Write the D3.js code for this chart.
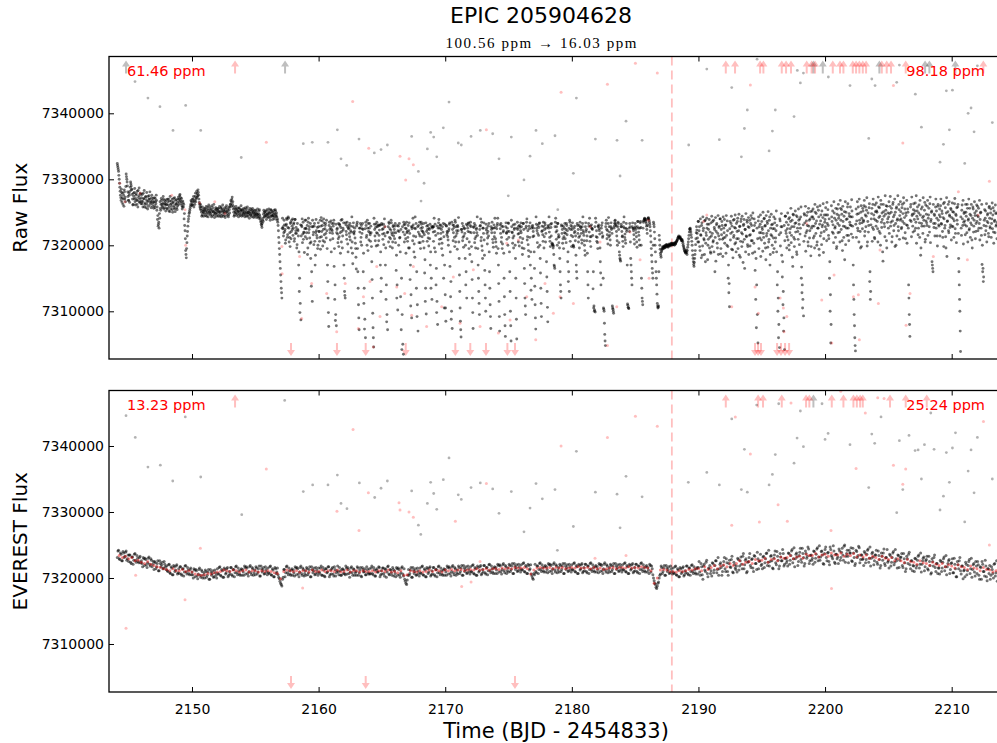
<!DOCTYPE html>
<html>
<head>
<meta charset="utf-8">
<script src="https://cdn.jsdelivr.net/npm/d3@7"></script>
<style>
  body { margin: 0; background: #fff; }
  svg { display: block; font-family: "DejaVu Sans", sans-serif; }
</style>
</head>
<body>
<svg id="chart"></svg>
<script>
// flux values are stored in units of 100 e-/s above 7,300,000
const FLUX_BASE = 7300000, FLUX_UNIT = 100;

// raw light curve, one row per day, every 0.05 d from 2144.000 (A) and 2144.025 (B)
const rawStartA = 2144.0, rawStartB = 2144.025, rawStep = 0.05;
const rawFluxA = [
  null, null, 324, 318, 312, 300, 288, 276, 268, 280, 272, 262, 276, 284, 270, 266, 308, 300, 290, 274,
  268, 276, 282, 296, 290, 285, 270, 262, 274, 280, 266, 271, 278, 262, 268, 283, 275, 265, 270, 277,
  272, 263, 266, 279, 270, 258, 264, 274, 269, 262, 255, 267, 275, 270, 262, 266, 272, 268, 259, 265,
  266, 260, 271, 263, 268, 258, 245, 232, 226, 241, 256, 262, 268, 259, 264, 270, 262, 257, 266, 261,
  262, 255, 266, 270, 258, 251, 262, 267, 259, 254, 264, 271, 260, 255, 268, 262, 257, 265, 270, 262,
  270, 277, 272, 266, 260, 258, 264, 262, 248, 222, 192, 181, 204, 221, 236, 244, 250, 256, 262, 266,
  262, 266, 270, 258, 268, 274, 266, 272, 278, 275, 280, 270, 262, 255, 258, 250, 246, 254, 249, 252,
  248, 256, 252, 244, 250, 258, 253, 247, 251, 255, 249, 243, 252, 257, 250, 246, 253, 248, 255, 250,
  247, 253, 256, 250, 244, 251, 258, 252, 246, 250, 254, 249, 245, 253, 257, 251, 248, 252, 246, 254,
  258, 262, 266, 270, 262, 255, 250, 246, 252, 255, 249, 253, 247, 251, 256, 250, 245, 252, 254, 248,
  251, 247, 254, 250, 246, 252, 255, 249, 244, 250, 253, 248, 251, 246, 249, 253, 247, 250, 244, 248,
  249, 245, 251, 247, 243, 248, 252, 246, 240, 235, 230, 233, 241, 247, 250, 244, 248, 252, 246, 243,
  247, 251, 245, 242, 249, 253, 246, 244, 250, 247, 243, 248, 252, 246, 243, 240, 230, 212, 195, 175,
  155, 135, 120, 241, 228, 219, 231, 224, 208, 232, 239, 216, 243, 226, 212, 198, 235, 221, 229, 240,
  226, 234, 210, 239, 222, 218, 201, 224, 214, 190, 150, 112, 87, 230, 240, 217, 209, 219, 225, 213,
  238, 219, 230, 196, 241, 224, 211, 233, 205, 160, 115, 228, 220, 229, 206, 185, 239, 215, 227, 200,
  228, 221, 212, 194, 242, 221, 230, 207, 240, 216, 225, 233, 211, 222, 170, 120, 77, 235, 219, 227,
  190, 233, 218, 229, 238, 195, 140, 95, 78, 224, 217, 210, 198, 232, 219, 227, 205, 239, 214, 223,
  170, 130, 120, 231, 216, 235, 202, 225, 226, 213, 208, 229, 220, 205, 172, 234, 217, 226, 203, 182,
  229, 235, 160, 110, 72, 220, 233, 212, 200, 225, 224, 188, 135, 88, 60, 230, 215, 238, 192, 221,
  226, 219, 206, 219, 175, 120, 75, 46, 232, 214, 227, 199, 235, 218, 229, 207, 223, 231, 190, 150,
  231, 217, 225, 201, 240, 214, 196, 140, 95, 72, 228, 235, 212, 198, 223, 234, 216, 205, 230, 219,
  210, 233, 219, 185, 140, 102, 229, 221, 211, 190, 224, 150, 95, 50, 35, 231, 216, 226, 188, 235,
  221, 212, 196, 234, 218, 170, 125, 90, 228, 241, 214, 202, 182, 225, 233, 160, 110, 70, 230, 217,
  214, 195, 235, 222, 227, 206, 233, 216, 178, 135, 96, 229, 224, 211, 199, 224, 232, 190, 150, 118,
  228, 220, 228, 196, 232, 215, 165, 115, 80, 226, 239, 209, 230, 218, 224, 203, 185, 233, 213, 170,
  125, 85, 229, 221, 213, 200, 225, 234, 190, 145, 100, 74, 231, 219, 227, 198, 235, 214, 222, 194,
  228, 242, 180, 130, 85, 61, 224, 233, 212, 197, 226, 218, 200, 160, 120, 230, 221, 234, 205, 186,
  235, 219, 175, 120, 74, 227, 233, 210, 196, 224, 219, 215, 170, 130, 95, 229, 240, 212, 199, 180,
  226, 234, 185, 140, 100, 223, 218, 211, 229, 233, 160, 110, 74, 224, 235, 209, 197, 231, 219, 227,
  205, 188, 230, 241, 170, 115, 70, 225, 233, 212, 195, 228, 222, 150, 95, 62, 234, 218, 226, 200,
  233, 221, 160, 100, 55, 228, 219, 211, 196, 224, 232, 180, 120, 58, 235, 217, 229, 199, 227, 222,
  219, 204, 186, 233, 224, 165, 120, 95, 229, 240, 213, 201, 183, 225, 234, 190, 150, 118, 230, 221,
  214, 165, 110, 73, 232, 222, 218, 197, 227, 234, 180, 135, 92, 229, 216, 235, 196, 224, 231, 218,
  175, 130, 84, 230, 243, 212, 198, 227, 233, 203, 201, 199, 170, 165, 235, 220, 228, 200, 233, 216,
  213, 180, 140, 120, 229, 224, 210, 195, 226, 233, 218, 204, 230, 222, 190, 160, 130, 235, 224, 215,
  228, 234, 200, 197, 219, 221, 214, 170, 150, 230, 224, 212, 196, 235, 227, 218, 203, 233, 222, 215,
  200, 185, 234, 224, 214, 160, 120, 229, 241, 213, 198, 231, 225, 215, 160, 108, 102, 99, 235, 222,
  212, 195, 228, 225, 217, 175, 140, 230, 234, 214, 105, 100, 65, 48, 233, 224, 216, 202, 242, 228,
  215, 200, 234, 226, 108, 103, 97, 229, 237, 233, 229, 214, 200, 235, 224, 190, 180, 176, 232, 221,
  214, 198, 235, 226, 217, 203, 233, 224, 111, 106, 104, 221, 228, 180, 160, 140, 234, 225, 216, 202,
  233, 224, 213, 197, 236, 226, 215, 200, 234, 227, 150, 120, 110, 235, 238, 241, 239, 236, 229, 218,
  240, 242, 238, 232, 222, 205, 185, 165, 150, 235, 228, 210, 190, 160, 140, 112, 105, 108, 215, 200,
  188, 182, 192, 195, 198, 196, 199, 197, 200, 198, 201, 199, 197, 200, 202, 199, 201, 203, 200, 202,
  201, 203, 200, 204, 202, 205, 207, 209, 212, 214, 211, 213, 210, 207, 209, 206, 200, 196, 192, 190,
  188, 193, 186, 197, 205, 215, 224, 226, 220, 212, 200, 185, 175, 168, 180, 192, 210, 228, 218, 205,
  236, 222, 198, 240, 215, 230, 185, 243, 226, 208, 237, 175, 219, 241, 232, 200, 224, 239, 212, 190,
  234, 244, 218, 205, 238, 227, 160, 242, 221, 233, 196, 245, 214, 229, 240, 187, 224, 236, 209, 243,
  226, 239, 212, 231, 245, 200, 222, 150, 128, 107, 236, 218, 244, 229, 193, 238, 215, 227, 246, 204,
  233, 221, 241, 210, 247, 228, 182, 236, 219, 244, 205, 230, 239, 165, 224, 248, 213, 235, 198, 242,
  227, 238, 216, 245, 230, 207, 249, 222, 240, 190, 234, 180, 140, 95, 52, 243, 228, 211, 246, 219,
  236, 224, 250, 212, 241, 229, 196, 245, 218, 233, 251, 205, 238, 170, 226, 247, 214, 232, 189, 243,
  225, 240, 211, 252, 230, 160, 120, 80, 45, 237, 219, 248, 228, 175, 130, 90, 42, 244, 222, 235,
  213, 249, 231, 200, 242, 225, 256, 215, 238, 168, 246, 228, 209, 252, 234, 190, 243, 221, 255, 232,
  240, 226, 258, 167, 140, 118, 93, 248, 234, 259, 219, 245, 230, 205, 256, 238, 222, 251, 198, 243,
  229, 255, 240, 214, 262, 233, 248, 200, 258, 226, 243, 185, 260, 237, 219, 252, 231, 263, 210, 246,
  239, 257, 224, 265, 246, 230, 210, 150, 100, 52, 260, 236, 252, 218, 266, 241, 228, 256, 195, 247,
  233, 262, 245, 220, 268, 238, 254, 207, 259, 229, 244, 178, 266, 250, 226, 240, 263, 215, 248, 235,
  258, 230, 269, 243, 212, 140, 95, 60, 40, 255, 237, 266, 222, 248, 270, 233, 196, 260, 241, 225,
  252, 236, 268, 221, 258, 244, 272, 205, 249, 230, 263, 160, 130, 240, 256, 227, 270, 246, 212, 261,
  238, 264, 250, 225, 273, 242, 257, 218, 268, 235, 249, 190, 262, 244, 228, 275, 253, 207, 259, 240,
  226, 266, 248, 274, 235, 256, 213, 262, 243, 230, 270, 250, 200, 258, 238, 275, 222, 254, 245, 266,
  240, 227, 262, 248, 272, 233, 255, 210, 245, 268, 230, 250, 140, 95, 62, 258, 236, 273, 247, 220,
  263, 239, 252, 226, 275, 244, 258, 216, 249, 234, 268, 185, 255, 229, 242, 272, 238, 253, 205, 261,
  247, 230, 268, 241, 256, 220, 273, 236, 250, 175, 165, 262, 227, 245, 233, 270, 252, 214, 259, 238,
  229, 255, 243, 270, 232, 248, 212, 263, 240, 226, 257, 196, 272, 236, 251, 222, 266, 244, 231, 254,
  242, 264, 228, 250, 237, 271, 218, 245, 257, 232, 262, 180, 140, 100, 39, 226, 253, 240, 268, 235,
  250, 231, 262, 244, 219, 256, 238, 270, 225, 247, 234, 262, 208, 241, 255, 229, 266, 245, 221, 252,
  236, 259, 243, 226, 268, 239, 250, 215, 171, 160, 145, 230, 254, 241, 222, 263, 236, 248, 218, 257,
  241, 226, 255, 233, 264, 246, 220, 252, 238, 261, 229, 249, 235
];
const rawFluxB = [
  null, null, 321, 315, 306, 294, 282, 272, 285, 265, 279, 270, 259, 281, 273, 289, 304, 296, 281, 268,
  279, 265, 288, 293, 284, 277, 261, 279, 270, 286, 261, 276, 268, 282, 258, 272, 287, 266, 279, 263,
  267, 277, 258, 271, 283, 262, 273, 257, 280, 266, 274, 259, 270, 281, 265, 257, 276, 263, 271, 256,
  272, 257, 266, 276, 253, 239, 229, 235, 248, 266, 253, 271, 262, 257, 274, 255, 268, 263, 252, 269,
  256, 270, 261, 252, 267, 274, 255, 263, 270, 250, 266, 257, 272, 251, 263, 269, 254, 260, 273, 266,
  275, 268, 263, 271, 255, 267, 258, 240, 230, 210, 186, 195, 214, 229, 240, 248, 253, 259, 268, 260,
  270, 261, 274, 266, 262, 279, 270, 282, 273, 284, 276, 265, 258, 262, 253, 244, 258, 251, 244, 256,
  253, 245, 259, 248, 255, 243, 261, 250, 258, 246, 254, 260, 245, 251, 262, 242, 249, 257, 244, 253,
  256, 244, 251, 259, 247, 256, 243, 255, 261, 244, 252, 257, 242, 250, 260, 245, 255, 243, 258, 249,
  262, 268, 259, 273, 266, 259, 244, 256, 249, 259, 245, 256, 252, 243, 257, 247, 254, 260, 244, 253,
  245, 256, 249, 243, 257, 248, 244, 258, 250, 247, 241, 256, 245, 254, 243, 256, 251, 242, 253, 246,
  253, 242, 247, 255, 245, 241, 254, 243, 237, 232, 227, 238, 236, 253, 243, 251, 245, 239, 254, 248,
  242, 255, 249, 238, 254, 244, 251, 239, 245, 253, 240, 254, 244, 249, 238, 235, 222, 204, 186, 165,
  145, 128, 226, 225, 214, 238, 221, 203, 230, 241, 212, 227, 241, 205, 219, 233, 210, 238, 224, 215,
  232, 206, 239, 218, 227, 196, 233, 222, 170, 130, 98, 231, 214, 228, 204, 235, 220, 189, 238, 226,
  225, 210, 186, 235, 219, 228, 203, 180, 138, 228, 238, 216, 201, 233, 170, 219, 222, 211, 195, 234,
  221, 206, 238, 229, 213, 237, 199, 224, 234, 205, 230, 218, 238, 195, 145, 98, 230, 224, 208, 237,
  224, 222, 210, 233, 168, 118, 86, 232, 219, 226, 204, 233, 213, 230, 188, 238, 221, 196, 226, 234,
  150, 124, 234, 221, 209, 228, 190, 230, 218, 233, 222, 196, 243, 188, 228, 219, 221, 211, 195, 164,
  232, 195, 135, 90, 226, 226, 205, 230, 218, 233, 160, 112, 73, 225, 235, 212, 200, 226, 233, 208,
  233, 216, 229, 198, 148, 97, 60, 241, 224, 207, 232, 219, 228, 200, 231, 215, 230, 170, 130, 233,
  224, 209, 232, 218, 228, 170, 118, 84, 219, 220, 205, 233, 225, 210, 238, 219, 196, 228, 214, 224,
  229, 204, 162, 120, 230, 222, 200, 233, 212, 122, 72, 42, 228, 220, 235, 205, 232, 210, 225, 219,
  206, 230, 222, 196, 148, 108, 228, 225, 207, 231, 190, 226, 243, 213, 135, 92, 228, 220, 204, 235,
  204, 226, 232, 213, 221, 219, 196, 158, 115, 234, 221, 206, 230, 218, 226, 210, 170, 135, 228, 226,
  228, 206, 241, 221, 190, 140, 98, 229, 218, 234, 202, 226, 231, 210, 195, 228, 220, 150, 105, 232,
  105, 230, 216, 219, 208, 222, 232, 168, 122, 88, 235, 224, 207, 230, 212, 238, 205, 228, 218, 230,
  222, 205, 155, 105, 72, 224, 220, 207, 229, 214, 225, 180, 140, 232, 210, 226, 233, 195, 220, 230,
  228, 198, 148, 98, 228, 219, 204, 230, 213, 226, 243, 195, 150, 112, 224, 230, 207, 235, 192, 226,
  218, 208, 162, 120, 232, 226, 202, 221, 214, 190, 135, 92, 228, 219, 226, 204, 226, 213, 241, 210,
  198, 225, 233, 195, 142, 92, 231, 218, 205, 229, 202, 220, 188, 122, 78, 228, 219, 209, 221, 234,
  212, 190, 130, 78, 238, 220, 203, 231, 214, 226, 200, 150, 88, 226, 224, 205, 218, 230, 212, 234,
  228, 196, 210, 233, 195, 142, 108, 226, 235, 208, 222, 192, 229, 212, 170, 132, 226, 228, 213, 226,
  190, 138, 90, 243, 226, 204, 230, 215, 233, 200, 158, 112, 221, 222, 206, 228, 213, 234, 205, 226,
  152, 106, 228, 226, 220, 206, 232, 214, 202, 200, 196, 186, 168, 228, 241, 209, 222, 233, 212, 204,
  196, 160, 130, 231, 218, 203, 229, 213, 219, 210, 224, 233, 216, 175, 145, 226, 238, 206, 230, 198,
  224, 213, 199, 226, 229, 207, 185, 160, 233, 218, 205, 230, 214, 228, 224, 208, 228, 243, 219, 207,
  192, 228, 221, 207, 188, 140, 233, 220, 206, 229, 213, 226, 224, 134, 105, 100, 228, 241, 213, 206,
  204, 229, 231, 222, 196, 158, 226, 219, 212, 150, 103, 82, 55, 228, 238, 210, 222, 233, 213, 220,
  208, 228, 224, 218, 105, 100, 226, 233, 238, 231, 221, 207, 228, 233, 204, 185, 178, 228, 228, 213,
  206, 228, 243, 212, 208, 226, 221, 170, 109, 105, 226, 233, 205, 170, 150, 228, 226, 222, 209, 226,
  228, 219, 205, 228, 236, 220, 208, 226, 236, 200, 135, 115, 226, 237, 240, 240, 238, 233, 224, 230,
  241, 240, 235, 228, 214, 195, 175, 158, 200, 232, 220, 200, 175, 150, 126, 108, 106, 160, 208, 194,
  185, 190, 194, 197, 195, 198, 196, 199, 197, 201, 200, 198, 199, 201, 200, 200, 202, 201, 203, 201,
  202, 201, 203, 202, 204, 206, 208, 211, 213, 212, 212, 211, 209, 208, 207, 203, 198, 194, 191, 189,
  190, 189, 192, 201, 210, 220, 225, 223, 216, 206, 192, 180, 171, 174, 186, 201, 219, 223, 211, 236,
  205, 228, 192, 216, 181, 234, 199, 222, 210, 186, 238, 203, 215, 226, 178, 209, 232, 196, 220, 188,
  214, 198, 236, 207, 190, 224, 212, 176, 231, 203, 218, 186, 227, 209, 240, 195, 216, 230, 183, 211,
  219, 203, 230, 188, 215, 237, 198, 170, 142, 225, 208, 233, 194, 220, 181, 212, 239, 202, 226, 190,
  210, 236, 195, 222, 185, 229, 206, 240, 198, 217, 174, 232, 209, 224, 190, 214, 238, 201, 228, 186,
  215, 199, 233, 207, 241, 188, 222, 203, 230, 162, 118, 75, 226, 210, 237, 195, 219, 232, 183, 208,
  227, 191, 218, 240, 203, 230, 178, 214, 236, 197, 222, 209, 243, 186, 216, 231, 200, 225, 211, 195,
  234, 205, 222, 190, 140, 100, 60, 216, 240, 199, 228, 185, 152, 110, 70, 230, 207, 244, 218, 196,
  225, 208, 240, 193, 219, 236, 204, 228, 182, 247, 212, 198, 233, 220, 245, 186, 226, 209, 238, 201,
  217, 243, 150, 128, 105, 231, 206, 246, 214, 191, 237, 222, 250, 199, 229, 211, 240, 184, 226, 252,
  243, 211, 229, 196, 250, 218, 237, 205, 226, 253, 194, 232, 214, 246, 201, 228, 242, 189, 221, 235,
  228, 246, 207, 233, 254, 215, 240, 175, 125, 80, 243, 220, 231, 204, 249, 226, 212, 238, 198, 255,
  219, 241, 230, 205, 256, 224, 247, 192, 236, 212, 251, 228, 201, 239, 215, 258, 226, 207, 244, 231,
  243, 217, 252, 229, 170, 118, 78, 48, 232, 212, 247, 226, 258, 205, 238, 221, 250, 198, 234, 256,
  238, 260, 214, 246, 228, 253, 199, 236, 220, 257, 145, 118, 231, 248, 206, 262, 224, 240, 210, 251,
  229, 252, 236, 205, 258, 221, 244, 200, 262, 227, 239, 176, 251, 233, 213, 247, 260, 196, 235, 249,
  243, 218, 259, 229, 250, 205, 237, 265, 222, 246, 198, 233, 256, 214, 240, 228, 262, 209, 238, 251,
  225, 257, 236, 211, 264, 242, 219, 249, 231, 203, 255, 226, 120, 80, 238, 262, 213, 245, 229, 254,
  248, 222, 264, 235, 203, 252, 240, 226, 261, 212, 246, 196, 233, 258, 218, 244, 229, 265, 209, 237,
  234, 259, 215, 246, 228, 263, 204, 239, 252, 170, 160, 233, 247, 214, 258, 226, 241, 199, 262, 231,
  246, 214, 260, 233, 252, 221, 242, 198, 265, 230, 213, 249, 183, 237, 262, 219, 246, 227, 256, 208,
  229, 251, 240, 212, 263, 225, 247, 204, 238, 258, 218, 160, 118, 70, 243, 215, 261, 230, 202, 248,
  237, 216, 250, 229, 262, 205, 240, 223, 256, 212, 245, 231, 196, 258, 220, 238, 249, 210, 233, 261,
  245, 222, 256, 233, 208, 249, 226, 262, 200, 165, 152, 238, 216, 252, 229, 205, 246, 234, 213, 259,
  228, 249, 212, 240, 225, 257, 203, 236, 219, 248, 231, 210
];

// EVEREST de-trended light curve, one row per day, every 0.1 d from 2144.00 (A) and 2144.05 (B)
const evStartA = 2144.0, evStartB = 2144.05, evStep = 0.1;
const everestFluxA = [
  null, 231, 242, 228, 236, 226, 238, 233, 241, 229,
  225, 235, 222, 232, 227, 237, 224, 230, 223, 233,
  226, 217, 229, 230, 220, 223, 232, 218, 227, 221,
  213, 223, 217, 226, 211, 222, 220, 214, 225, 217,
  218, 210, 221, 207, 215, 205, 217, 212, 220, 208,
  207, 217, 204, 214, 209, 219, 206, 212, 205, 215,
  209, 200, 212, 213, 203, 206, 215, 201, 210, 204,
  200, 210, 204, 213, 198, 209, 207, 201, 212, 204,
  214, 206, 217, 203, 211, 201, 213, 208, 216, 204,
  206, 216, 203, 213, 208, 218, 205, 211, 204, 214,
  213, 204, 216, 217, 207, 210, 219, 205, 214, 208,
  205, 215, 209, 218, 203, 214, 212, 206, 217, 209,
  215, 207, 218, 204, 212, 202, 214, 209, 205, 199,
  192, 188, 201, 213, 208, 218, 205, 211, 204, 214,
  212, 203, 215, 216, 206, 209, 218, 204, 213, 207,
  204, 214, 208, 217, 202, 213, 211, 205, 216, 208,
  215, 207, 218, 204, 212, 202, 214, 209, 217, 205,
  206, 216, 203, 213, 208, 218, 205, 211, 204, 214,
  212, 205, 215, 216, 207, 209, 217, 204, 213, 208,
  204, 215, 208, 216, 202, 213, 210, 205, 217, 208,
  214, 207, 218, 205, 212, 203, 214, 209, 216, 205,
  206, 215, 203, 213, 209, 218, 205, 212, 204, 213,
  211, 202, 214, 215, 205, 208, 217, 203, 198, 192,
  197, 213, 207, 216, 201, 212, 210, 204, 215, 207,
  215, 207, 218, 204, 212, 202, 214, 209, 217, 205,
  206, 216, 203, 213, 208, 218, 205, 211, 204, 214,
  213, 204, 216, 217, 207, 210, 219, 205, 214, 208,
  206, 216, 210, 219, 204, 215, 213, 207, 218, 210,
  217, 209, 220, 206, 214, 204, 216, 211, 219, 207,
  209, 219, 206, 216, 211, 221, 208, 214, 207, 217,
  216, 207, 219, 220, 210, 213, 222, 208, 217, 211,
  209, 219, 213, 222, 207, 218, 216, 210, 221, 213,
  220, 212, 223, 209, 217, 207, 219, 214, 206, 200,
  207, 221, 208, 218, 213, 223, 210, 216, 209, 219,
  217, 208, 220, 221, 211, 214, 223, 209, 218, 212,
  209, 219, 213, 222, 207, 218, 216, 210, 221, 213,
  220, 212, 223, 209, 217, 207, 219, 214, 222, 210,
  211, 221, 208, 218, 213, 223, 210, 216, 209, 219,
  217, 208, 220, 221, 211, 214, 223, 209, 218, 212,
  209, 219, 213, 222, 207, 218, 216, 210, 221, 213,
  220, 212, 223, 209, 217, 207, 219, 214, 222, 210,
  211, 221, 208, 218, 213, 223, 210, 216, 209, 219,
  216, 207, 219, 218, 205, 196, 190, 184, 192, 200,
  206, 216, 210, 219, 204, 215, 213, 207, 218, 210,
  215, 207, 218, 204, 212, 202, 214, 209, 217, 205,
  208, 218, 205, 215, 210, 220, 207, 213, 206, 216,
  216, 209, 222, 205, 218, 212, 224, 207, 215, 219,
  211, 223, 208, 219, 226, 213, 204, 221, 216, 210,
  225, 214, 229, 210, 222, 217, 228, 209, 224, 215,
  218, 230, 212, 226, 221, 233, 214, 227, 208, 224,
  231, 219, 228, 215, 234, 222, 213, 229, 225, 236,
  221, 232, 216, 229, 238, 224, 218, 233, 226, 214,
  235, 223, 240, 227, 218, 232, 226, 237, 221, 230,
  226, 238, 221, 234, 243, 229, 217, 236, 232, 225,
  239, 228, 245, 231, 222, 237, 233, 244, 226, 235,
  230, 241, 224, 236, 246, 232, 227, 240, 235, 221,
  243, 231, 238, 225, 247, 234, 229, 241, 222, 236,
  232, 244, 227, 239, 235, 248, 224, 237, 233, 242,
  238, 226, 245, 231, 222, 240, 234, 246, 228, 235,
  229, 240, 223, 236, 244, 230, 218, 237, 232, 226,
  235, 224, 241, 228, 219, 233, 238, 222, 231, 243,
  226, 236, 218, 231, 240, 224, 229, 215, 234, 227,
  232, 219, 237, 223, 214, 229, 236, 220, 226, 211,
  218, 230, 215, 227, 235, 221, 209, 226, 232, 217,
  228, 214, 233, 219, 208, 225, 231, 216, 222, 207,
  215, 227, 210, 224, 232, 217, 205, 222, 228, 213,
  223, 208, 230, 214, 202, 220, 226, 211, 218, 199,
  212, 224, 205, 219, 228, 214, 201, 220, 209, 225,
  207, 220, 198, 216, 225, 210, 203, 218, 196, 214,
  219, 204, 213, 200, 222, 208, 195
];
const everestFluxB = [
  null, 241, 229, 238, 226, 240, 231, 239, 227, 235,
  235, 224, 232, 221, 236, 227, 234, 225, 231, 223,
  222, 231, 219, 228, 216, 230, 221, 229, 217, 225,
  225, 214, 222, 211, 226, 217, 224, 215, 221, 213,
  211, 220, 208, 217, 205, 219, 210, 218, 206, 214,
  217, 206, 214, 203, 218, 209, 216, 207, 213, 205,
  205, 214, 202, 211, 199, 213, 204, 212, 200, 208,
  212, 201, 209, 198, 213, 204, 211, 202, 208, 200,
  207, 216, 204, 213, 201, 215, 206, 214, 202, 210,
  216, 205, 213, 202, 217, 208, 215, 206, 212, 204,
  209, 218, 206, 215, 203, 217, 208, 216, 204, 212,
  217, 206, 214, 203, 218, 209, 216, 207, 213, 205,
  208, 217, 205, 214, 202, 216, 207, 215, 201, 195,
  190, 198, 213, 202, 217, 208, 215, 206, 212, 204,
  208, 217, 205, 214, 202, 216, 207, 215, 203, 211,
  216, 205, 213, 202, 217, 208, 215, 206, 212, 204,
  209, 215, 204, 216, 203, 214, 208, 217, 202, 212,
  214, 206, 217, 203, 211, 209, 216, 204, 213, 207,
  207, 218, 206, 213, 201, 215, 208, 214, 204, 210,
  217, 204, 212, 203, 216, 209, 214, 205, 213, 206,
  206, 215, 207, 216, 203, 212, 209, 217, 202, 211,
  215, 207, 214, 201, 217, 206, 213, 208, 216, 203,
  207, 216, 204, 213, 201, 215, 206, 214, 195, 190,
  204, 204, 212, 201, 216, 207, 214, 205, 211, 203,
  208, 217, 205, 214, 202, 216, 207, 215, 203, 211,
  216, 205, 213, 202, 217, 208, 215, 206, 212, 204,
  209, 218, 206, 215, 203, 217, 208, 216, 204, 212,
  218, 207, 215, 204, 219, 210, 217, 208, 214, 206,
  210, 219, 207, 216, 204, 218, 209, 217, 205, 213,
  219, 208, 216, 205, 220, 211, 218, 209, 215, 207,
  212, 221, 209, 218, 206, 220, 211, 219, 207, 215,
  221, 210, 218, 207, 222, 213, 220, 211, 217, 209,
  213, 222, 210, 219, 207, 221, 212, 220, 203, 198,
  205, 210, 218, 207, 222, 213, 220, 211, 217, 209,
  213, 222, 210, 219, 207, 221, 212, 220, 208, 216,
  221, 210, 218, 207, 222, 213, 220, 211, 217, 209,
  213, 222, 210, 219, 207, 221, 212, 220, 208, 216,
  221, 210, 218, 207, 222, 213, 220, 211, 217, 209,
  213, 222, 210, 219, 207, 221, 212, 220, 208, 216,
  221, 210, 218, 207, 222, 213, 220, 211, 217, 209,
  213, 222, 210, 219, 207, 221, 212, 220, 208, 216,
  221, 210, 218, 207, 222, 213, 220, 211, 217, 209,
  212, 221, 209, 214, 200, 192, 186, 188, 194, 204,
  218, 207, 215, 204, 219, 210, 217, 208, 214, 206,
  208, 217, 205, 214, 202, 216, 207, 215, 203, 211,
  218, 207, 215, 204, 219, 210, 217, 208, 214, 206,
  225, 204, 217, 198, 221, 210, 227, 202, 214, 207,
  203, 222, 212, 226, 208, 231, 214, 223, 204, 219,
  231, 210, 223, 204, 227, 216, 233, 208, 220, 213,
  209, 228, 218, 232, 214, 237, 220, 229, 210, 225,
  237, 216, 229, 210, 233, 222, 239, 214, 226, 219,
  214, 233, 223, 237, 219, 242, 225, 234, 215, 230,
  241, 220, 233, 214, 237, 226, 243, 218, 230, 223,
  218, 237, 227, 241, 223, 246, 229, 238, 219, 234,
  245, 224, 237, 218, 241, 230, 247, 222, 234, 227,
  221, 240, 230, 244, 226, 249, 232, 241, 222, 237,
  247, 226, 239, 220, 243, 232, 249, 224, 236, 229,
  222, 241, 231, 245, 227, 250, 233, 242, 223, 238,
  246, 225, 238, 219, 242, 231, 248, 223, 235, 228,
  219, 238, 228, 242, 224, 247, 230, 239, 220, 235,
  242, 221, 234, 215, 238, 227, 244, 219, 231, 224,
  215, 234, 224, 238, 220, 243, 226, 235, 216, 231,
  237, 216, 229, 210, 233, 222, 239, 214, 226, 219,
  210, 229, 219, 233, 215, 238, 221, 230, 211, 226,
  233, 212, 225, 206, 229, 218, 235, 210, 222, 215,
  206, 225, 215, 229, 211, 234, 217, 226, 207, 222,
  229, 208, 221, 202, 225, 214, 231, 206, 218, 211,
  202, 221, 211, 225, 207, 230, 213, 222, 203, 218,
  225, 204, 217, 198, 221, 210, 227, 202, 214, 207,
  198, 217, 207, 221, 203, 226
];

// red (flagged) cadences inside the EVEREST band, every 0.25 d from 2144.0
const evRedStart = 2144.0, evRedStep = 0.25;
const everestRedFlux = [
  null, 234, 231, 233,  229, 231, 226, 227,  224, 222, 225, 221,  219, 217, 216, 214,
  213, 211, 214, 211,  211, 213, 210, 211,  209, 206, 205, 204,  205, 207, 206, 208,
  209, 210, 212, 211,  210, 212, 211, 209,  211, 212, 209, 211,  211, 209, 211, 210,
  211, 210, 208, 207,  199, 210, 212, 211,  210, 211, 209, 211,  211, 209, 212, 210,
  210, 212, 210, 211,  211, 210, 212, 209,  210, 212, 209, 211,  211, 209, 211, 210,
  210, 211, 209, 211,  211, 210, 212, 209,  210, 208, 211, 204,  205, 211, 210, 209,
  211, 209, 210, 212,  210, 212, 211, 209,  212, 211, 213, 211,  212, 213, 211, 212,
  213, 212, 214, 212,  213, 214, 212, 214,  214, 213, 215, 214,  215, 214, 216, 215,
  215, 216, 214, 206,  212, 215, 216, 215,  215, 216, 214, 216,  215, 216, 214, 215,
  216, 215, 217, 215,  215, 216, 214, 216,  214, 215, 213, 214,  215, 216, 214, 216,
  216, 215, 217, 215,  216, 215, 217, 216,  215, 211, 192, 200,  212, 213, 212, 210,
  210, 209, 211, 210,  211, 213, 212, 214,  214, 211, 217, 213,  216, 219, 214, 218,
  220, 217, 222, 219,  222, 226, 221, 224,  225, 222, 228, 226,  227, 230, 224, 228,
  229, 226, 232, 230,  231, 234, 229, 232,  233, 230, 236, 234,  234, 237, 232, 235,
  236, 233, 238, 235,  235, 238, 233, 236,  234, 237, 232, 235,  232, 235, 230, 233,
  231, 228, 233, 230,  228, 231, 226, 229,  226, 223, 228, 225,  224, 221, 226, 223,
  222, 219, 224, 221,  219, 222, 217, 220,  218, 215, 220, 217,  216, 213, 218, 215,
  214, 211, 216, 213,  212, 209, 211
];

// [time, flux] of single cadences
const rawOutliers = [
  [2145.50, 448], [2146.52, 423], [2147.47, 410], [2149.50, 412], [2148.50, 374], [2150.69, 374],
  [2153.89, 333], [2158.79, 354], [2159.50, 356], [2160.74, 356], [2161.48, 375], [2161.77, 331],
  [2162.22, 321], [2163.19, 361], [2164.40, 340], [2164.93, 345], [2165.43, 352], [2167.35, 365],
  [2168.59, 346], [2168.85, 371], [2169.09, 364], [2169.33, 334], [2169.85, 378], [2170.30, 417],
  [2171.03, 355], [2171.27, 352], [2172.04, 365], [2172.77, 374], [2173.75, 369], [2174.25, 331],
  [2175.22, 364], [2176.70, 335], [2177.17, 374], [2177.67, 354], [2178.67, 366], [2180.36, 423],
  [2181.86, 361], [2183.57, 359], [2184.28, 388], [2185.55, 359], [2189.23, 352], [2167.88, 312],
  [2168.33, 294], [2168.09, 267], [2174.98, 275], [2176.22, 299], [2180.12, 309], [2183.81, 305],
  [2178.89, 254], [2190.66, 467], [2192.63, 439], [2193.86, 405], [2193.63, 377], [2191.65, 360],
  [2193.39, 334], [2194.63, 482], [2196.07, 405], [2195.84, 373], [2195.58, 343], [2197.55, 395],
  [2197.81, 465], [2198.29, 461], [2198.05, 446], [2200.26, 455], [2201.97, 442], [2203.69, 452],
  [2203.95, 442], [2203.45, 362], [2205.66, 447], [2205.87, 473], [2207.13, 429], [2207.61, 379],
  [2209.35, 353], [2209.08, 326], [2209.58, 434], [2210.06, 435], [2209.82, 375], [2211.30, 400],
  [2211.53, 408], [2211.77, 372], [2211.03, 324], [2212.03, 472], [2213.21, 386]
];
const rawRed = [
  [2144.30, 294], [2144.70, 266], [2145.90, 279], [2148.40, 276], [2149.45, 254], [2149.50, 200],
  [2150.60, 264], [2151.80, 266], [2152.60, 248], [2157.10, 198], [2157.12, 157], [2158.50, 183],
  [2158.66, 89], [2159.45, 142], [2160.64, 127], [2161.43, 69], [2162.10, 142], [2163.14, 74],
  [2163.54, 122], [2164.06, 145], [2164.32, 46], [2164.59, 168], [2164.85, 92], [2165.25, 228],
  [2166.17, 137], [2166.80, 127], [2167.35, 94], [2167.48, 168], [2168.53, 77], [2169.72, 107],
  [2170.64, 152], [2171.17, 82], [2172.22, 163], [2172.75, 77], [2174.20, 67], [2174.86, 203],
  [2175.12, 87], [2175.78, 208], [2176.44, 122], [2177.15, 57], [2177.88, 142], [2178.54, 97],
  [2179.07, 122], [2180.12, 112], [2181.44, 228], [2182.23, 205], [2182.81, 48], [2183.55, 107],
  [2184.60, 220], [2185.39, 178], [2186.05, 238], [2186.10, 150], [2190.40, 236], [2190.66, 246],
  [2192.63, 107], [2194.47, 137], [2194.73, 97], [2196.45, 120], [2196.71, 105], [2196.98, 92],
  [2196.76, 69], [2198.55, 233], [2199.74, 117], [2200.53, 52], [2200.71, 155], [2202.24, 122],
  [2202.63, 125], [2202.71, 57], [2204.21, 112], [2204.34, 193], [2206.40, 79], [2206.71, 127],
  [2208.55, 183], [2211.24, 178], [2212.10, 246],
  [2155.87, 356], [2162.69, 418], [2163.96, 347], [2166.43, 335], [2166.88, 299], [2167.48, 322],
  [2167.14, 331], [2173.25, 375], [2179.15, 432], [2182.81, 444], [2185.02, 476], [2186.75, 461],
  [2194.10, 443], [2205.40, 442], [2206.14, 355], [2212.98, 297], [2210.53, 281]
];
const everestOutliers = [
  [2144.79, 446], [2145.52, 413], [2146.52, 368], [2147.50, 371], [2148.48, 347], [2149.47, 444],
  [2150.69, 353], [2153.93, 296], [2157.32, 469], [2158.79, 331], [2159.53, 341], [2160.74, 341],
  [2161.48, 356], [2161.77, 313], [2162.24, 305], [2163.22, 344], [2164.43, 322], [2164.93, 336],
  [2165.43, 347], [2168.07, 266], [2167.35, 332], [2168.59, 313], [2168.85, 345], [2169.09, 328],
  [2169.33, 304], [2169.85, 349], [2170.30, 382], [2171.03, 326], [2171.27, 319], [2172.04, 337],
  [2172.77, 344], [2173.75, 335], [2174.25, 298], [2175.22, 331], [2176.70, 306], [2177.17, 343],
  [2177.67, 320], [2178.67, 334], [2180.36, 392], [2181.86, 330], [2183.57, 327], [2184.28, 354],
  [2185.55, 323], [2167.88, 280], [2176.22, 270], [2180.12, 278], [2183.81, 276], [2178.86, 242],
  [2189.20, 345], [2190.66, 360], [2191.65, 341], [2192.63, 441], [2193.39, 334], [2193.63, 395],
  [2193.86, 330], [2194.60, 462], [2195.58, 341], [2195.84, 357], [2196.07, 387], [2196.34, 464],
  [2197.55, 374], [2197.79, 412], [2198.05, 453], [2198.29, 399], [2199.76, 464], [2200.00, 410],
  [2200.24, 419], [2201.97, 402], [2203.45, 337], [2203.69, 418], [2203.92, 404], [2204.42, 444],
  [2205.66, 299], [2205.87, 408], [2206.14, 334], [2206.63, 416], [2207.11, 393], [2207.35, 394],
  [2207.61, 350], [2207.85, 402], [2208.35, 450], [2208.61, 395], [2209.08, 303], [2209.35, 324],
  [2209.58, 390], [2209.82, 345], [2210.06, 397], [2210.30, 420], [2211.03, 285], [2211.30, 362],
  [2211.53, 394], [2211.77, 329], [2212.03, 413], [2213.21, 350]
];
const everestRed = [
  [2155.87, 365], [2162.72, 425], [2163.93, 329], [2161.45, 301], [2163.19, 272], [2166.35, 314],
  [2144.79, 124], [2149.45, 167], [2150.66, 245], [2145.55, 204], [2158.74, 185], [2171.30, 187],
  [2172.04, 194], [2170.80, 286], [2172.75, 225], [2166.43, 303], [2167.14, 300], [2167.48, 292],
  [2173.25, 343], [2179.15, 400], [2182.81, 413], [2185.02, 445], [2186.75, 430], [2181.83, 230],
  [2184.28, 234], [2192.63, 280], [2192.91, 444], [2194.10, 388], [2194.81, 285], [2196.29, 311],
  [2197.02, 286], [2197.31, 465], [2200.47, 272], [2201.24, 483], [2202.45, 366], [2203.18, 450],
  [2204.16, 473], [2204.66, 472], [2205.40, 371], [2206.14, 342], [2206.37, 365], [2212.51, 437],
  [2200.51, 184], [2212.98, 250]
];

// times of cadences off the top / bottom of each panel (drawn as arrows)
const rawUpRed = [2153.40, 2192.16, 2192.89, 2194.87, 2195.13, 2196.58, 2196.92, 2197.31, 2198.55,
  2198.94, 2199.21, 2200.61, 2201.18, 2201.45, 2202.19, 2202.45, 2202.71, 2202.98, 2203.24, 2204.48,
  2204.87, 2205.21, 2206.37, 2212.50];
const rawUpGray = [2144.79, 2157.35, 2199.08, 2199.82, 2204.29, 2207.90, 2208.24, 2210.29];
const rawDownRed = [2157.82, 2161.45, 2163.72, 2166.88, 2170.80, 2171.98, 2173.22, 2174.91, 2175.51,
  2194.47, 2194.71, 2194.94, 2196.21, 2196.52, 2196.84, 2197.16];
const evUpRed = [2153.40, 2192.16, 2194.71, 2195.10, 2196.58, 2198.50, 2198.76, 2200.53, 2201.45,
  2202.24, 2202.51, 2202.77, 2202.98, 2205.13, 2206.37, 2208.03];
const evUpGray = [2199.08];
const evDownRed = [2157.82, 2163.72, 2175.51];

const breakTime = 2187.9;
const xTicks = [2150, 2160, 2170, 2180, 2190, 2200, 2210];
const yTicks = [7310000, 7320000, 7330000, 7340000];

// ---------------------------------------------------------------
const W = 997, H = 743;
const svg = d3.select("#chart").attr("width", W).attr("height", H);

const x = d3.scaleLinear().domain([2143.445, 2213.58]).range([109, 997]);

const toFlux = v => FLUX_BASE + v * FLUX_UNIT;
function grid(values, start, step) {
  return values.map((v, i) => v == null ? null : [start + i * step, toFlux(v)]).filter(d => d);
}
const pairs = list => list.map(d => [d[0], toFlux(d[1])]);

const panels = [
  {
    name: "raw", top: 56.5, bottom: 359, domain: [7302773, 7348606], label: "Raw Flux",
    band: grid(rawFluxA, rawStartA, rawStep).concat(grid(rawFluxB, rawStartB, rawStep)),
    bandRed: [], r: 1.45,
    gray: pairs(rawOutliers), red: pairs(rawRed),
    upRed: rawUpRed, upGray: rawUpGray, downRed: rawDownRed,
    left: "61.46 ppm", right: "98.18 ppm", xLabels: false
  },
  {
    name: "everest", top: 390.5, bottom: 692, domain: [7302727, 7348409], label: "EVEREST Flux",
    band: grid(everestFluxA, evStartA, evStep).concat(grid(everestFluxB, evStartB, evStep)),
    bandRed: grid(everestRedFlux, evRedStart, evRedStep), r: 1.5,
    gray: pairs(everestOutliers), red: pairs(everestRed),
    upRed: evUpRed, upGray: evUpGray, downRed: evDownRed,
    left: "13.23 ppm", right: "25.24 ppm", xLabels: true
  }
];

const PINK = "rgba(255,0,0,0.25)";
const GRAYA = "rgba(0,0,0,0.25)";

function upArrow(px, tip) {
  return `M${px},${tip} L${px - 4},${tip + 6} L${px - 1},${tip + 6} L${px - 1},${tip + 13} L${px + 1},${tip + 13} L${px + 1},${tip + 6} L${px + 4},${tip + 6} Z`;
}
function downArrow(px, tip) {
  return `M${px},${tip} L${px - 4},${tip - 6} L${px - 1},${tip - 6} L${px - 1},${tip - 13} L${px + 1},${tip - 13} L${px + 1},${tip - 6} L${px + 4},${tip - 6} Z`;
}

panels.forEach(p => {
  const y = d3.scaleLinear().domain(p.domain).range([p.bottom, p.top]);
  const g = svg.append("g").attr("class", p.name);

  g.append("clipPath").attr("id", "clip-" + p.name)
    .append("rect").attr("x", 109).attr("y", p.top).attr("width", W - 109).attr("height", p.bottom - p.top);
  const plot = g.append("g").attr("clip-path", `url(#clip-${p.name})`);

  // segment break
  plot.append("line")
    .attr("x1", x(breakTime)).attr("x2", x(breakTime))
    .attr("y1", p.top).attr("y2", p.bottom)
    .attr("stroke", PINK).attr("stroke-width", 1.8).attr("stroke-dasharray", "9,5");

  const dots = (data, fill, r, cls) => plot.selectAll("circle." + cls).data(data).join("circle")
    .attr("class", cls)
    .attr("cx", d => x(d[0])).attr("cy", d => y(d[1])).attr("r", r).attr("fill", fill);

  dots(p.band, "rgba(0,0,0,0.55)", p.r, "band");
  dots(p.gray, "rgba(0,0,0,0.3)", 1.4, "gray");
  dots(p.bandRed, "rgba(230,0,0,0.45)", 1.5, "bandred");
  dots(p.red, PINK, 1.5, "red");

  // arrows for points outside the y range
  const arrows = g.append("g");
  p.upGray.forEach(t => arrows.append("path").attr("d", upArrow(x(t), p.top + 4)).attr("fill", GRAYA));
  p.upRed.forEach(t => arrows.append("path").attr("d", upArrow(x(t), p.top + 4)).attr("fill", PINK));
  p.downRed.forEach(t => arrows.append("path").attr("d", downArrow(x(t), p.bottom - 3)).attr("fill", PINK));

  // axes with inward ticks
  const xb = g.append("g").attr("transform", `translate(0,${p.bottom})`)
    .call(d3.axisBottom(x).tickValues(xTicks).tickSizeInner(-5).tickSizeOuter(0).tickPadding(12)
      .tickFormat(p.xLabels ? d3.format("d") : ""));
  const xt = g.append("g").attr("transform", `translate(0,${p.top})`)
    .call(d3.axisTop(x).tickValues(xTicks).tickSizeInner(-5).tickSizeOuter(0).tickFormat(""));
  const yl = g.append("g").attr("transform", "translate(109,0)")
    .call(d3.axisLeft(y).tickValues(yTicks).tickSizeInner(-5).tickSizeOuter(0).tickPadding(5)
      .tickFormat(d3.format("d")));
  [xb, xt, yl].forEach(a => {
    a.select(".domain").remove();
    a.selectAll("text").attr("font-size", 14).attr("font-family", "DejaVu Sans").attr("fill", "#000");
    a.selectAll("line").attr("stroke", "#000");
  });

  // frame
  g.append("rect").attr("x", 109).attr("y", p.top).attr("width", W + 5 - 109).attr("height", p.bottom - p.top)
    .attr("fill", "none").attr("stroke", "#000").attr("stroke-width", 1.3);

  // ppm labels
  g.append("text").attr("x", 127).attr("y", p.top + 19.5).attr("fill", "red").attr("font-size", 14.5).text(p.left);
  g.append("text").attr("x", 985).attr("y", p.top + 19.5).attr("fill", "red").attr("font-size", 14.5)
    .attr("text-anchor", "end").text(p.right);

  // y label
  g.append("text").attr("transform", `translate(27,${(p.top + p.bottom) / 2}) rotate(-90)`)
    .attr("text-anchor", "middle").attr("font-size", 20).text(p.label);
});

// titles
svg.append("text").attr("x", 541).attr("y", 23).attr("text-anchor", "middle")
  .attr("font-size", 22).text("EPIC 205904628");
svg.append("text").attr("x", 541).attr("y", 48).attr("text-anchor", "middle")
  .attr("font-family", "Liberation Serif, DejaVu Serif, serif").attr("font-size", 15)
  .attr("textLength", 191).attr("lengthAdjust", "spacing")
  .text("100.56 ppm \u2192 16.03 ppm");
svg.append("text").attr("x", 556).attr("y", 738).attr("text-anchor", "middle")
  .attr("font-size", 21).text("Time (BJD - 2454833)");
</script>
</body>
</html>
